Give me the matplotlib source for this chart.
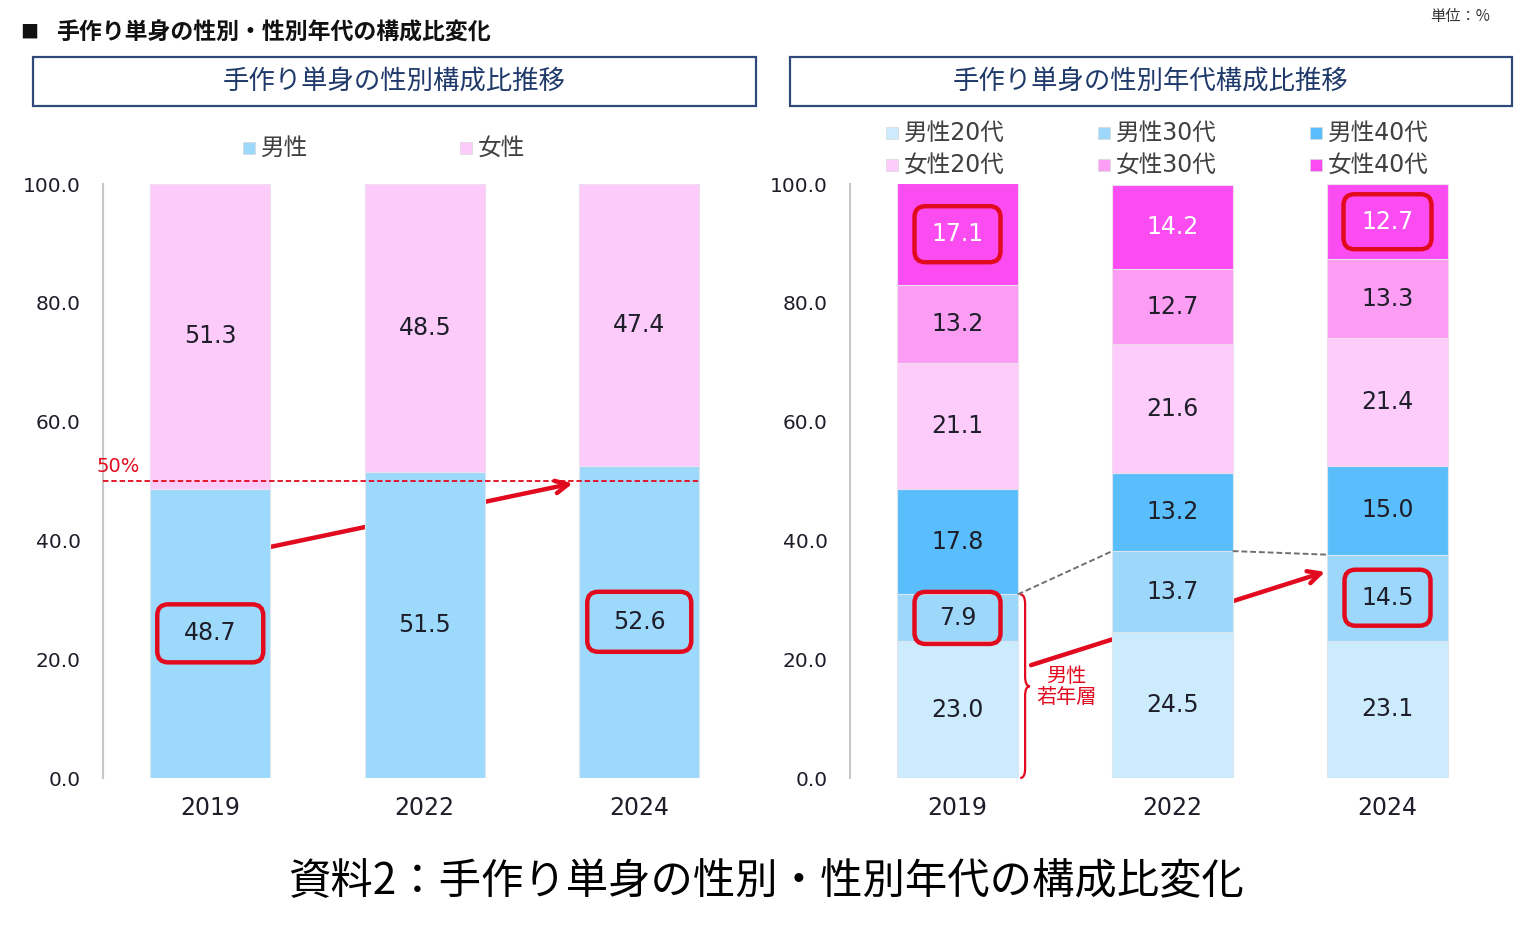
import matplotlib
matplotlib.use("Agg")
import matplotlib.pyplot as plt
import numpy as np
from matplotlib.patches import Rectangle, FancyBboxPatch, PathPatch
from matplotlib.path import Path
from matplotlib.transforms import IdentityTransform

plt.rcParams['font.family'] = ['DejaVu Sans', 'Noto Sans CJK JP']

# ---------------- data ----------------
years = ["2019", "2022", "2024"]
male = [48.7, 51.5, 52.6]
female = [51.3, 48.5, 47.4]

age_series = ["男性20代", "男性30代", "男性40代", "女性20代", "女性30代", "女性40代"]
m20 = [23.0, 24.5, 23.1]
m30 = [7.9, 13.7, 14.5]
m40 = [17.8, 13.2, 15.0]
f20 = [21.1, 21.6, 21.4]
f30 = [13.2, 12.7, 13.3]
f40 = [17.1, 14.2, 12.7]
age_values = [m20, m30, m40, f20, f30, f40]

yticks = [0, 20, 40, 60, 80, 100]

# ---------------- style ----------------
c_male = "#9DD9FA"
c_female = "#FDCBFA"
age_colors = ["#CCEBFD", "#9DD8FA", "#59BEFB", "#FDCCFB", "#FC9DF4", "#FB4CF1"]
red = "#E20A1E"
navy = "#2F4A7A"
txt = "#1E1E2A"
JP = ['Noto Sans CJK JP', 'DejaVu Sans']

W, H = 1514, 943
fig = plt.figure(figsize=(W / 100, H / 100), dpi=100)

def fx(x):
    return x / W

def fy(y):
    return 1 - y / H

axL = fig.add_axes([fx(103), fy(778), 643.5 / W, 594 / H])
axR = fig.add_axes([fx(850), fy(778), 645 / W, 594 / H])

bw = 0.56
xpos = np.arange(len(years))

def style_axis(ax):
    ax.set_xlim(-0.5, 2.5)
    ax.set_ylim(0, 100)
    ax.set_yticks(yticks)
    ax.set_yticklabels([f"{v:.1f}" for v in yticks], fontsize=14.5, color=txt)
    ax.set_xticks(xpos)
    ax.set_xticklabels(years, fontsize=17, color=txt)
    for s in ["top", "right", "bottom"]:
        ax.spines[s].set_visible(False)
    ax.spines["left"].set_color("#C8C8C8")
    ax.spines["left"].set_linewidth(1.5)
    ax.tick_params(axis="y", length=0, pad=16)
    ax.tick_params(axis="x", length=0, pad=13)

style_axis(axL)
style_axis(axR)

def red_box(ax, x, y, w, h):
    cx, cy = ax.transData.transform((x, y))
    p = FancyBboxPatch((cx - w / 2, cy - h / 2), w, h,
                       boxstyle="round,pad=0,rounding_size=11",
                       transform=IdentityTransform(), fill=False,
                       edgecolor=red, linewidth=3.2, zorder=6)
    ax.add_patch(p)

# ---------------- left chart ----------------
axL.bar(xpos, male, bw, color=c_male, edgecolor="#DCE6EE", linewidth=0.8, zorder=3)
axL.bar(xpos, female, bw, bottom=male, color=c_female, edgecolor="#EEDDEE", linewidth=0.8, zorder=3)
for i in range(len(years)):
    axL.text(xpos[i], male[i] / 2, f"{male[i]:.1f}", ha="center", va="center",
             fontsize=17, color=txt, zorder=5)
    axL.text(xpos[i], male[i] + female[i] / 2, f"{female[i]:.1f}", ha="center",
             va="center", fontsize=17, color=txt, zorder=5)

axL.plot([-0.5, xpos[-1] + bw / 2], [50, 50], ls=(0, (3, 1.6)), color=red, lw=1.3, zorder=4)
axL.text(-0.53, 50.8, "50%", color=red, fontsize=14, ha="left", va="bottom", zorder=5)
axL.annotate("", xy=(1.69, 49.6), xytext=(0.28, 38.9),
             arrowprops=dict(arrowstyle="->,head_length=0.9,head_width=0.45",
                             color=red, lw=3.2, shrinkA=0, shrinkB=0), zorder=2)
red_box(axL, 0, male[0] / 2, 106, 58)
red_box(axL, 2, male[2] / 2, 104, 60)

# ---------------- right chart ----------------
bottoms = np.zeros(len(years))
edge_cols = ["#DCE6EE", "#DCE6EE", "#DCE6EE", "#EEDDEE", "#EEDDEE", "#EEDDEE"]
for k, vals in enumerate(age_values):
    vals = np.array(vals)
    axR.bar(xpos, vals, bw, bottom=bottoms, color=age_colors[k],
            edgecolor=edge_cols[k], linewidth=0.8, zorder=3)
    for i in range(len(years)):
        axR.text(xpos[i], bottoms[i] + vals[i] / 2, f"{vals[i]:.1f}", ha="center",
                 va="center", fontsize=17, color=("white" if k == 5 else txt), zorder=5)
    bottoms = bottoms + vals

# dashed connectors at top of male 30s segment
m30_top = np.array(m20) + np.array(m30)
cx, cy = [], []
for i in range(len(years)):
    if i > 0:
        cx.append(xpos[i] - bw / 2); cy.append(m30_top[i])
    if i < len(years) - 1:
        cx.append(xpos[i] + bw / 2); cy.append(m30_top[i])
for j in range(0, len(cx) - 1):
    if j % 2 == 0:
        axR.plot(cx[j:j + 2], cy[j:j + 2], ls=(0, (3, 1.5)), color="#707070", lw=1.4, zorder=4)

# red arrow
axR.annotate("", xy=(1.71, 34.7), xytext=(0.342, 19.0),
             arrowprops=dict(arrowstyle="->,head_length=0.9,head_width=0.45",
                             color=red, lw=3.2, shrinkA=0, shrinkB=0), zorder=2)

# brace
x0, w, hh = 0.292, 0.045, 1.6
y0, y1 = 0.0, m30_top[0]
ym = (y0 + y1) / 2
verts = [(x0, y0), (x0 + w / 2, y0), (x0 + w / 2, y0 + hh),
         (x0 + w / 2, ym - hh),
         (x0 + w / 2, ym), (x0 + w, ym),
         (x0 + w / 2, ym), (x0 + w / 2, ym + hh),
         (x0 + w / 2, y1 - hh),
         (x0 + w / 2, y1), (x0, y1)]
codes = [Path.MOVETO, Path.CURVE3, Path.CURVE3, Path.LINETO,
         Path.CURVE3, Path.CURVE3, Path.CURVE3, Path.CURVE3,
         Path.LINETO, Path.CURVE3, Path.CURVE3]
axR.add_patch(PathPatch(Path(verts, codes), fill=False, edgecolor=red, lw=1.6,
                        zorder=5, clip_on=False))
axR.text(0.505, 15.3, "男性\n若年層", color=red, fontsize=14.5, ha="center", va="center",
         family=JP, linespacing=1.0, zorder=5)

red_box(axR, 0, m20[0] + m30[0] / 2, 86, 52)
red_box(axR, 0, 100.1 - f40[0] / 2, 86, 56)
red_box(axR, 2, m20[2] + m30[2] / 2, 86, 56)
red_box(axR, 2, 100.0 - f40[2] / 2, 88, 55)

# ---------------- legends (manual) ----------------
def legend_item(x, y, color, label):
    fig.add_artist(Rectangle((fx(x), fy(y + 6)), 12 / W, 12 / H, transform=fig.transFigure,
                             facecolor=color, edgecolor="#D8D8D8", lw=0.5))
    fig.text(fx(x + 18), fy(y), label, fontsize=17, color="#404040", ha="left",
             va="center", family=['DejaVu Sans', 'Noto Sans CJK JP'])

legend_item(243, 148, c_male, "男性")
legend_item(460, 148, c_female, "女性")
cols_x = [886, 1098, 1310]
rows_y = [133, 165]
for k in range(6):
    r = 0 if k < 3 else 1
    c = k % 3
    legend_item(cols_x[c], rows_y[r], age_colors[k], age_series[k])

# ---------------- headers ----------------
fig.text(fx(20), fy(33), "■", fontsize=13, family=JP, ha="left", va="center", color="#111111")
fig.text(fx(56), fy(33), "手作り単身の性別・性別年代の構成比変化", fontsize=16.5, family=JP,
         fontweight="bold", ha="left", va="center", color="#111111")
fig.text(fx(1490), fy(17), "単位：%", fontsize=11, family=JP, ha="right", va="center",
         color="#333333")

for (xa, xb, label) in [(33, 756, "手作り単身の性別構成比推移"),
                        (790, 1512, "手作り単身の性別年代構成比推移")]:
    fig.add_artist(Rectangle((fx(xa), fy(106)), (xb - xa) / W, 49 / H,
                             transform=fig.transFigure, fill=False,
                             edgecolor=navy, lw=1.6))
    fig.text(fx((xa + xb) / 2), fy(81), label, fontsize=19, family=JP, ha="center",
             va="center", color="#1F3A6A")

fig.text(fx(766), fy(882), "資料2：手作り単身の性別・性別年代の構成比変化", fontsize=30.5,
         family=JP, ha="center", va="center", color="#000000")

fig.savefig("out.png", dpi=100)
